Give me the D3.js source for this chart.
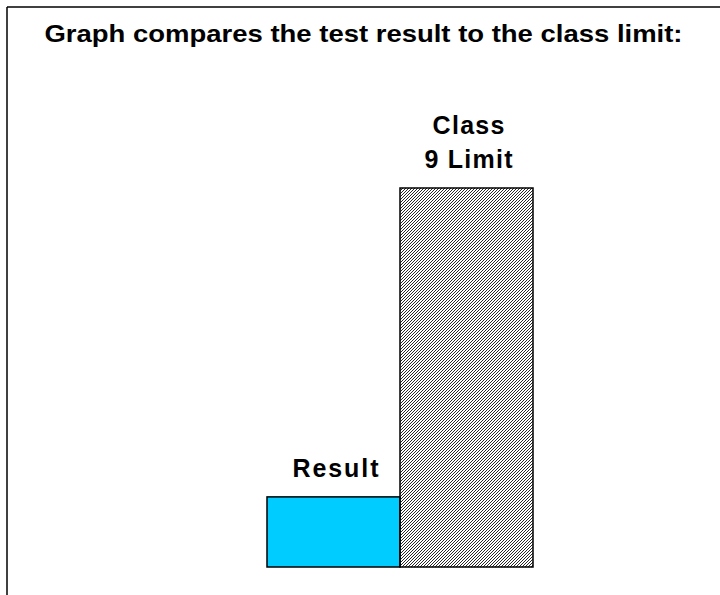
<!DOCTYPE html>
<html>
<head>
<meta charset="utf-8">
<script src="https://cdn.jsdelivr.net/npm/d3@7"></script>
<style>
  html, body { margin: 0; padding: 0; background: #fff; }
  svg { display: block; }
  text { font-family: "Liberation Sans", Arial, sans-serif; font-weight: bold; fill: #000; }
</style>
</head>
<body>
<svg></svg>
<script>
'use strict';

const categories = ["Result", "Class 9 Limit"];
const values = [18.5, 100];
const labelLines = [["Result"], ["Class", "9 Limit"]];
const labelWidths = [[86], [72, 88]];
const titleText = "Graph compares the test result to the class limit:";

const width = 720, height = 595;
const svg = d3.select("svg")
  .attr("width", width)
  .attr("height", height);

// hatch for the limit bar
const defs = svg.append("defs");
defs.append("pattern")
  .attr("id", "hatch")
  .attr("patternUnits", "userSpaceOnUse")
  .attr("width", 3)
  .attr("height", 3)
  .append("path")
  .attr("d", "M-1,1 l2,-2 M0,3 l3,-3 M2,4 l2,-2")
  .attr("stroke", "#000")
  .attr("stroke-width", 0.85);

// frame: top and left edges only
svg.append("line")
  .attr("x1", 7).attr("y1", 7).attr("x2", width).attr("y2", 7)
  .attr("stroke", "#000").attr("stroke-width", 1.5);
svg.append("line")
  .attr("x1", 7).attr("y1", 7).attr("x2", 7).attr("y2", height)
  .attr("stroke", "#000").attr("stroke-width", 1.5);

svg.append("text")
  .attr("x", (7 + width) / 2)
  .attr("y", 42)
  .attr("text-anchor", "middle")
  .attr("textLength", 638)
  .attr("lengthAdjust", "spacingAndGlyphs")
  .style("font-size", "24px")
  .text(titleText);

const x = d3.scaleBand()
  .domain(categories)
  .range([267, 533])
  .paddingInner(0)
  .paddingOuter(0);

const y = d3.scaleLinear()
  .domain([0, d3.max(values)])
  .range([567, 188]);

const fills = ["#00CCFF", "url(#hatch)"];

svg.selectAll(".bar")
  .data(categories)
  .enter()
  .append("rect")
  .attr("class", "bar")
  .attr("x", d => x(d))
  .attr("y", (d, i) => y(values[i]))
  .attr("width", x.bandwidth())
  .attr("height", (d, i) => y(0) - y(values[i]))
  .attr("fill", (d, i) => fills[i])
  .attr("stroke", "#000")
  .attr("stroke-width", 1.5);

const lineGap = 34;
categories.forEach((c, i) => {
  const lines = labelLines[i];
  const cx = x(c) + x.bandwidth() / 2 + 2;
  const base = y(values[i]) - 20;
  lines.forEach((t, j) => {
    svg.append("text")
      .attr("x", cx)
      .attr("y", base - (lines.length - 1 - j) * lineGap)
      .attr("text-anchor", "middle")
      .attr("textLength", labelWidths[i][j])
      .attr("lengthAdjust", "spacing")
      .style("font-size", "25px")
      .text(t);
  });
});
</script>
</body>
</html>
